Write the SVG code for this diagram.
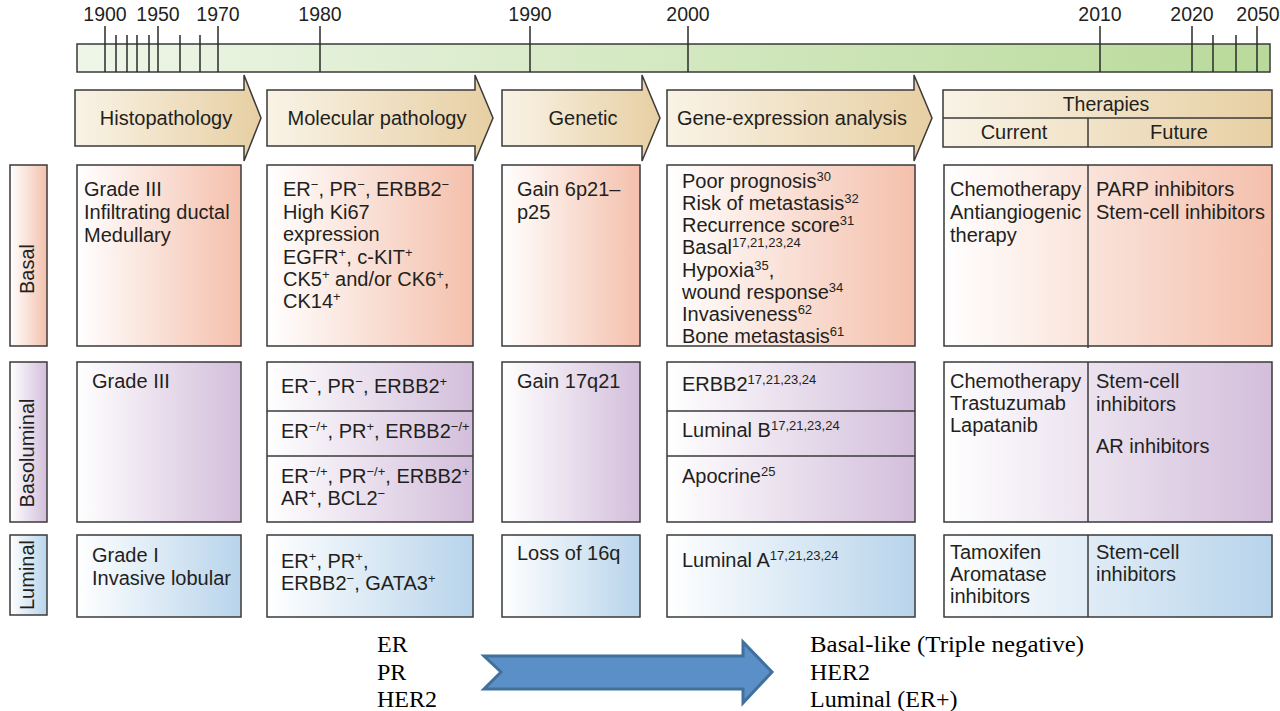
<svg xmlns="http://www.w3.org/2000/svg" width="1280" height="711" viewBox="0 0 1280 711">
<style>
.t{font-family:"Liberation Sans",Arial,Helvetica,sans-serif;font-size:20px;fill:#231f20}
.g{font-size:19.5px}
.yr{text-anchor:middle;font-size:19.5px}
.mid{text-anchor:middle}
.sup{font-size:13px}
.sf{font-family:"Liberation Serif","Times New Roman",serif;font-size:24px;fill:#000}
.bx{stroke:#3a3a3a;stroke-width:1.5}
.tk{stroke:#2a2a2a;stroke-width:1.5}
.dv{stroke:#3a3a3a;stroke-width:1.5;fill:none}
</style>
<defs>
<linearGradient id="gGreen" x1="0" y1="0" x2="1" y2="0"><stop offset="0" stop-color="#eef6e8"/><stop offset="1" stop-color="#b9da9a"/></linearGradient>
<linearGradient id="gHead" x1="0" y1="0" x2="1" y2="0"><stop offset="0" stop-color="#f9f3e6"/><stop offset="1" stop-color="#e7cfa3"/></linearGradient>
<linearGradient id="gBasal" x1="0" y1="0" x2="1" y2="0"><stop offset="0" stop-color="#ffffff"/><stop offset="1" stop-color="#f4c0ac"/></linearGradient>
<linearGradient id="gBaso" x1="0" y1="0" x2="1" y2="0"><stop offset="0" stop-color="#ffffff"/><stop offset="1" stop-color="#d3bedb"/></linearGradient>
<linearGradient id="gLum" x1="0" y1="0" x2="1" y2="0"><stop offset="0" stop-color="#ffffff"/><stop offset="1" stop-color="#b8d4eb"/></linearGradient>
</defs>
<rect width="1280" height="711" fill="#ffffff"/>

<g id="timeline">
<rect x="77" y="44" width="1193" height="28" fill="url(#gGreen)" class="bx"/>
<g class="tk">
<line x1="105" y1="26" x2="105" y2="72"/><line x1="158" y1="26" x2="158" y2="72"/><line x1="218" y1="26" x2="218" y2="72"/>
<line x1="320" y1="26" x2="320" y2="72"/><line x1="530" y1="26" x2="530" y2="72"/><line x1="688" y1="26" x2="688" y2="72"/>
<line x1="1100" y1="26" x2="1100" y2="72"/><line x1="1192" y1="26" x2="1192" y2="72"/><line x1="1257" y1="26" x2="1257" y2="72"/>
<line x1="116" y1="35" x2="116" y2="72"/><line x1="127" y1="35" x2="127" y2="72"/><line x1="137" y1="35" x2="137" y2="72"/>
<line x1="149" y1="35" x2="149" y2="72"/><line x1="180" y1="35" x2="180" y2="72"/><line x1="200" y1="35" x2="200" y2="72"/>
<line x1="1213" y1="35" x2="1213" y2="72"/><line x1="1236" y1="35" x2="1236" y2="72"/>
</g>
<text class="t yr" x="105" y="21">1900</text><text class="t yr" x="158" y="21">1950</text><text class="t yr" x="218" y="21">1970</text>
<text class="t yr" x="320" y="21">1980</text><text class="t yr" x="530" y="21">1990</text><text class="t yr" x="688" y="21">2000</text>
<text class="t yr" x="1100" y="21">2010</text><text class="t yr" x="1192" y="21">2020</text><text class="t yr" x="1258" y="21">2050</text>
</g>

<g id="header-histopathology">
<path d="M75,90 L244,90 L244,75 L261,118 L244,161 L244,146 L75,146 Z" fill="url(#gHead)" class="bx"/>
<text class="t mid" x="166" y="125">Histopathology</text>
</g>
<g id="header-molecular">
<path d="M267,90 L475,90 L475,75 L493,118 L475,161 L475,146 L267,146 Z" fill="url(#gHead)" class="bx"/>
<text class="t mid" x="377" y="125">Molecular pathology</text>
</g>
<g id="header-genetic">
<path d="M502,90 L642,90 L642,75 L660,118 L642,161 L642,146 L502,146 Z" fill="url(#gHead)" class="bx"/>
<text class="t mid" x="583" y="125">Genetic</text>
</g>
<g id="header-gene-expression">
<path d="M667,90 L914,90 L914,75 L932,118 L914,161 L914,146 L667,146 Z" fill="url(#gHead)" class="bx"/>
<text class="t mid" x="792" y="125">Gene-expression analysis</text>
</g>
<g id="header-therapies">
<rect x="943" y="90" width="329" height="57" fill="url(#gHead)" class="bx"/>
<line x1="943" y1="118" x2="1272" y2="118" class="dv"/>
<line x1="1088" y1="118" x2="1088" y2="147" class="dv"/>
<text class="t mid g" x="1106" y="111">Therapies</text>
<text class="t mid" x="1014" y="139">Current</text>
<text class="t mid" x="1179" y="139">Future</text>
</g>

<!-- Basal row -->
<g id="label-basal">
<rect x="10" y="165" width="37" height="181" fill="url(#gBasal)" class="bx"/>
<text class="t mid" transform="translate(34,269) rotate(-90)">Basal</text>
</g>
<g id="basal-histo">
<rect x="77" y="165" width="164" height="181" fill="url(#gBasal)" class="bx"/>
<text class="t" x="84" y="196">Grade III</text>
<text class="t" x="84" y="219">Infiltrating ductal</text>
<text class="t" x="84" y="242">Medullary</text>
</g>
<g id="basal-molecular">
<rect x="267" y="165" width="206" height="181" fill="url(#gBasal)" class="bx"/>
<text class="t" x="283" y="196">ER<tspan class="sup" dy="-7">−</tspan><tspan dy="7">, PR</tspan><tspan class="sup" dy="-7">−</tspan><tspan dy="7">, ERBB2</tspan><tspan class="sup" dy="-7">−</tspan></text>
<text class="t" x="283" y="219">High Ki67</text>
<text class="t" x="283" y="241">expression</text>
<text class="t" x="283" y="264">EGFR<tspan class="sup" dy="-7">+</tspan><tspan dy="7">, c-KIT</tspan><tspan class="sup" dy="-7">+</tspan></text>
<text class="t" x="283" y="286">CK5<tspan class="sup" dy="-7">+</tspan><tspan dy="7"> and/or CK6</tspan><tspan class="sup" dy="-7">+</tspan><tspan dy="7">,</tspan></text>
<text class="t" x="283" y="308">CK14<tspan class="sup" dy="-7">+</tspan></text>
</g>
<g id="basal-genetic">
<rect x="502" y="165" width="138" height="181" fill="url(#gBasal)" class="bx"/>
<text class="t" x="517" y="196">Gain 6p21–</text>
<text class="t" x="517" y="219">p25</text>
</g>
<g id="basal-expression">
<rect x="667" y="165" width="248" height="181" fill="url(#gBasal)" class="bx"/>
<text class="t" x="682" y="188">Poor prognosis<tspan class="sup" dy="-7">30</tspan></text>
<text class="t" x="682" y="210">Risk of metastasis<tspan class="sup" dy="-7">32</tspan></text>
<text class="t" x="682" y="232">Recurrence score<tspan class="sup" dy="-7">31</tspan></text>
<text class="t" x="682" y="254">Basal<tspan class="sup" dy="-7">17,21,23,24</tspan></text>
<text class="t" x="682" y="277">Hypoxia<tspan class="sup" dy="-7">35</tspan><tspan dy="7">,</tspan></text>
<text class="t" x="682" y="299">wound response<tspan class="sup" dy="-7">34</tspan></text>
<text class="t" x="682" y="321">Invasiveness<tspan class="sup" dy="-7">62</tspan></text>
<text class="t" x="682" y="343">Bone metastasis<tspan class="sup" dy="-7">61</tspan></text>
</g>
<g id="basal-therapies">
<rect x="944" y="165" width="328" height="181" fill="url(#gBasal)" class="bx"/>
<line x1="1088" y1="165" x2="1088" y2="348" class="dv"/>
<text class="t" x="950" y="196">Chemotherapy</text>
<text class="t" x="950" y="219">Antiangiogenic</text>
<text class="t" x="950" y="242">therapy</text>
<text class="t" x="1096" y="196">PARP inhibitors</text>
<text class="t" x="1096" y="219">Stem-cell inhibitors</text>
</g>

<!-- Basoluminal row -->
<g id="label-basoluminal">
<rect x="10" y="362" width="37" height="160" fill="url(#gBaso)" class="bx"/>
<text class="t mid" transform="translate(34,453) rotate(-90)">Basoluminal</text>
</g>
<g id="baso-histo">
<rect x="77" y="362" width="164" height="160" fill="url(#gBaso)" class="bx"/>
<text class="t" x="92" y="388">Grade III</text>
</g>
<g id="baso-molecular">
<rect x="267" y="362" width="206" height="160" fill="url(#gBaso)" class="bx"/>
<line x1="267" y1="411" x2="473" y2="411" class="dv"/>
<line x1="267" y1="456" x2="473" y2="456" class="dv"/>
<text class="t" x="281" y="393">ER<tspan class="sup" dy="-7">−</tspan><tspan dy="7">, PR</tspan><tspan class="sup" dy="-7">−</tspan><tspan dy="7">, ERBB2</tspan><tspan class="sup" dy="-7">+</tspan></text>
<text class="t" x="281" y="438">ER<tspan class="sup" dy="-7">−/+</tspan><tspan dy="7">, PR</tspan><tspan class="sup" dy="-7">+</tspan><tspan dy="7">, ERBB2</tspan><tspan class="sup" dy="-7">−/+</tspan></text>
<text class="t" x="281" y="483">ER<tspan class="sup" dy="-7">−/+</tspan><tspan dy="7">, PR</tspan><tspan class="sup" dy="-7">−/+</tspan><tspan dy="7">, ERBB2</tspan><tspan class="sup" dy="-7">+</tspan></text>
<text class="t" x="281" y="505">AR<tspan class="sup" dy="-7">+</tspan><tspan dy="7">, BCL2</tspan><tspan class="sup" dy="-7">−</tspan></text>
</g>
<g id="baso-genetic">
<rect x="502" y="362" width="138" height="160" fill="url(#gBaso)" class="bx"/>
<text class="t" x="517" y="388">Gain 17q21</text>
</g>
<g id="baso-expression">
<rect x="667" y="362" width="248" height="160" fill="url(#gBaso)" class="bx"/>
<line x1="667" y1="411" x2="915" y2="411" class="dv"/>
<line x1="667" y1="456" x2="915" y2="456" class="dv"/>
<text class="t" x="682" y="391">ERBB2<tspan class="sup" dy="-7">17,21,23,24</tspan></text>
<text class="t" x="682" y="437">Luminal B<tspan class="sup" dy="-7">17,21,23,24</tspan></text>
<text class="t" x="682" y="483">Apocrine<tspan class="sup" dy="-7">25</tspan></text>
</g>
<g id="baso-therapies">
<rect x="944" y="362" width="328" height="160" fill="url(#gBaso)" class="bx"/>
<line x1="1088" y1="362" x2="1088" y2="522" class="dv"/>
<text class="t" x="950" y="388">Chemotherapy</text>
<text class="t" x="950" y="410">Trastuzumab</text>
<text class="t" x="950" y="432">Lapatanib</text>
<text class="t" x="1096" y="388">Stem-cell</text>
<text class="t" x="1096" y="411">inhibitors</text>
<text class="t" x="1096" y="453">AR inhibitors</text>
</g>

<!-- Luminal row -->
<g id="label-luminal">
<rect x="10" y="535" width="37" height="80" fill="url(#gLum)" class="bx"/>
<text class="t mid" transform="translate(34,575) rotate(-90)">Luminal</text>
</g>
<g id="lum-histo">
<rect x="77" y="535" width="164" height="82" fill="url(#gLum)" class="bx"/>
<text class="t" x="92" y="562">Grade I</text>
<text class="t" x="92" y="585">Invasive lobular</text>
</g>
<g id="lum-molecular">
<rect x="267" y="535" width="206" height="82" fill="url(#gLum)" class="bx"/>
<text class="t" x="281" y="568">ER<tspan class="sup" dy="-7">+</tspan><tspan dy="7">, PR</tspan><tspan class="sup" dy="-7">+</tspan><tspan dy="7">,</tspan></text>
<text class="t" x="281" y="590">ERBB2<tspan class="sup" dy="-7">−</tspan><tspan dy="7">, GATA3</tspan><tspan class="sup" dy="-7">+</tspan></text>
</g>
<g id="lum-genetic">
<rect x="502" y="535" width="138" height="82" fill="url(#gLum)" class="bx"/>
<text class="t" x="517" y="560">Loss of 16q</text>
</g>
<g id="lum-expression">
<rect x="667" y="535" width="248" height="82" fill="url(#gLum)" class="bx"/>
<text class="t" x="682" y="567">Luminal A<tspan class="sup" dy="-7">17,21,23,24</tspan></text>
</g>
<g id="lum-therapies">
<rect x="944" y="535" width="328" height="82" fill="url(#gLum)" class="bx"/>
<line x1="1088" y1="535" x2="1088" y2="617" class="dv"/>
<text class="t" x="950" y="559">Tamoxifen</text>
<text class="t" x="950" y="581">Aromatase</text>
<text class="t" x="950" y="603">inhibitors</text>
<text class="t" x="1096" y="559">Stem-cell</text>
<text class="t" x="1096" y="581">inhibitors</text>
</g>

<!-- bottom -->
<g id="receptors">
<text class="sf" x="377" y="652">ER</text>
<text class="sf" x="377" y="680">PR</text>
<text class="sf" x="377" y="707">HER2</text>
</g>
<g id="subtypes">
<text class="sf" x="810" y="652" textLength="274" lengthAdjust="spacingAndGlyphs">Basal-like (Triple negative)</text>
<text class="sf" x="810" y="680">HER2</text>
<text class="sf" x="810" y="707">Luminal (ER+)</text>
</g>
<g id="connectors">
<path d="M484,656 L743,656 L743,642 L772,672 L743,703 L743,689 L484,689 L501,672 Z" fill="#5b8fc8" stroke="#41709c" stroke-width="3" stroke-linejoin="miter"/>
</g>
</svg>
